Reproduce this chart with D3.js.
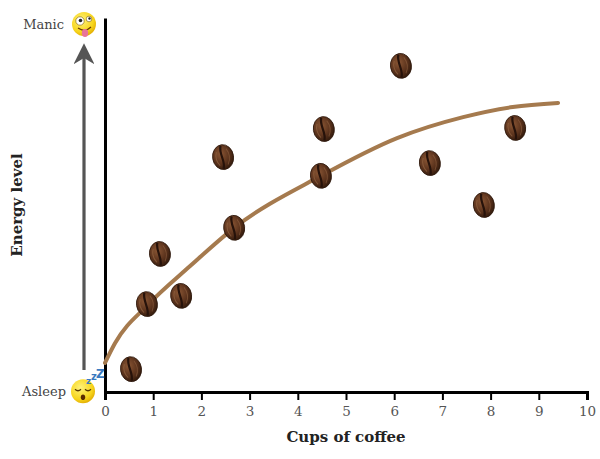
<!DOCTYPE html>
<html><head><meta charset="utf-8">
<script src="https://cdn.jsdelivr.net/npm/d3@7"></script>
<style>body{margin:0;background:#fff}svg{display:block}</style>
</head><body>
<svg id="c" width="600" height="459"></svg>
<script>
const cups = [0.54, 0.87, 1.14, 1.58, 2.45, 2.68, 4.54, 4.48, 6.14, 6.74, 7.86, 8.51];
const energy = [0.61, 2.35, 3.69, 2.57, 6.28, 4.39, 7.03, 5.78, 8.72, 6.12, 5.00, 7.06];
const trendX = [0, 0.21, 0.89, 1.76, 2.68, 4.48, 6.06, 7.43, 8.46, 9.40];
const trendY = [0.78, 1.31, 2.33, 3.36, 4.39, 5.78, 6.79, 7.35, 7.62, 7.73];
const xTicks = [0,1,2,3,4,5,6,7,8,9,10];
const xLabel = "Cups of coffee";
const yLabel = "Energy level";
const topLabel = "Manic", bottomLabel = "Asleep";

const svg = d3.select("#c");
const x = d3.scaleLinear().domain([0,10]).range([105,587]);
const y = d3.scaleLinear().domain([0,10]).range([392,18]);
const FONT = "'DejaVu Serif', serif";

const defs = svg.append("defs");
const bg = defs.append("radialGradient").attr("id","bean").attr("cx","40%").attr("cy","35%").attr("r","70%");
bg.append("stop").attr("offset","0%").attr("stop-color","#8a5634");
bg.append("stop").attr("offset","60%").attr("stop-color","#5a321c");
bg.append("stop").attr("offset","100%").attr("stop-color","#2e180b");
const yg = defs.append("radialGradient").attr("id","face").attr("cx","40%").attr("cy","35%").attr("r","70%");
yg.append("stop").attr("offset","0%").attr("stop-color","#fff27a");
yg.append("stop").attr("offset","70%").attr("stop-color","#f7d51c");
yg.append("stop").attr("offset","100%").attr("stop-color","#e0a800");

// arrow
defs.append("marker").attr("id","ah").attr("viewBox","0 0 10 10").attr("refX",6).attr("refY",5)
  .attr("markerWidth",8.5).attr("markerHeight",6.5).attr("orient","auto").attr("markerUnits","strokeWidth")
  .append("path").attr("d","M0,0 L10,5 L0,10 L3,5 Z").attr("fill","#555");
svg.append("line").attr("x1",84).attr("x2",84).attr("y1",370).attr("y2",y(9.1))
  .attr("stroke","#555").attr("stroke-width",3.2).attr("marker-end","url(#ah)");

// axes
const xAxis = svg.append("g").attr("transform",`translate(0,${y(0)})`)
  .call(d3.axisBottom(x).tickValues(xTicks).tickSize(8).tickSizeOuter(8).tickPadding(6).tickFormat(d3.format("d")));
xAxis.select(".domain").attr("stroke","#000").attr("stroke-width",3);
xAxis.selectAll(".tick line").attr("stroke","#000").attr("stroke-width",2);
xAxis.selectAll("text").attr("font-family",FONT).attr("font-size",13.5).attr("fill","#555");

const yAxis = svg.append("g").attr("transform",`translate(${x(0)},0)`)
  .call(d3.axisLeft(y).tickValues([]).tickSizeOuter(0));
yAxis.select(".domain").attr("stroke","#000").attr("stroke-width",3);

// trend
const trend = trendX.map((d,i)=>[d,trendY[i]]);
svg.append("path").datum(trend).attr("fill","none").attr("stroke","#a57a4e").attr("stroke-width",4)
  .attr("stroke-linecap","round")
  .attr("d", d3.line().x(d=>x(d[0])).y(d=>y(d[1])).curve(d3.curveMonotoneX));

// beans
const pts = cups.map((d,i)=>[d,energy[i]]);
const g = svg.selectAll("g.bean").data(pts).join("g").attr("class","bean")
  .attr("transform",d=>`translate(${x(d[0])},${y(d[1])}) rotate(-8)`);
g.append("ellipse").attr("rx",10.5).attr("ry",12.5).attr("fill","url(#bean)").attr("stroke","#2a150a").attr("stroke-width",0.8);
g.append("path").attr("d","M-1,-11.5 C-4,-4 2,4 -1,11.5").attr("fill","none").attr("stroke","#26120a").attr("stroke-width",2.2);
g.append("path").attr("d","M-6,-6 C-8,-1 -7,4 -4,8").attr("fill","none").attr("stroke","#9a6a48").attr("stroke-width",1).attr("opacity",0.6);
g.append("path").attr("d","M4,-8 C7,-3 7,3 4,8").attr("fill","none").attr("stroke","#9a6a48").attr("stroke-width",1).attr("opacity",0.5);

// emoji: manic
const mY = y(9.84);
const m = svg.append("g").attr("transform",`translate(84,${mY})`);
m.append("circle").attr("r",12).attr("fill","url(#face)");
m.append("circle").attr("cx",-4).attr("cy",-3).attr("r",4.2).attr("fill","#fff").attr("stroke","#7a5a00").attr("stroke-width",0.6);
m.append("circle").attr("cx",-3.5).attr("cy",-3.5).attr("r",1.8).attr("fill","#222");
m.append("circle").attr("cx",5).attr("cy",-5).attr("r",2.8).attr("fill","#fff").attr("stroke","#7a5a00").attr("stroke-width",0.6);
m.append("circle").attr("cx",5.5).attr("cy",-5.5).attr("r",1.2).attr("fill","#222");
m.append("path").attr("d","M-6,4 Q1,9 7,3").attr("fill","none").attr("stroke","#6b3a00").attr("stroke-width",1.2);
m.append("ellipse").attr("cx",1).attr("cy",9).attr("rx",3.2).attr("ry",4).attr("fill","#e8739a");

// emoji: asleep
const aY = y(0.02);
const a = svg.append("g").attr("transform",`translate(83,${aY})`);
a.append("circle").attr("r",12).attr("fill","url(#face)");
a.append("path").attr("d","M-8,-2 Q-5,1 -2,-2 M2,-2 Q5,1 8,-2").attr("fill","none").attr("stroke","#5a3a00").attr("stroke-width",1.2);
a.append("ellipse").attr("cx",0).attr("cy",6).attr("rx",2.2).attr("ry",2.8).attr("fill","#5a2a00");
const zf = "'DejaVu Sans',sans-serif";
svg.append("text").attr("x",86).attr("y",aY-7).attr("font-family",zf).attr("font-weight","bold")
  .attr("font-size",9).attr("fill","#3a7ac0").text("z");
svg.append("text").attr("x",91).attr("y",aY-11).attr("font-family",zf).attr("font-weight","bold")
  .attr("font-size",10).attr("fill","#3a7ac0").text("z");
svg.append("text").attr("x",96).attr("y",aY-13).attr("font-family",zf).attr("font-weight","bold")
  .attr("font-size",12).attr("fill","#3a7ac0").text("Z");

// labels
svg.append("text").attr("x",64).attr("y",mY).attr("dy","0.35em").attr("text-anchor","end")
  .attr("font-family",FONT).attr("font-size",13).attr("fill","#444").text(topLabel);
svg.append("text").attr("x",66).attr("y",aY).attr("dy","0.35em").attr("text-anchor","end")
  .attr("font-family",FONT).attr("font-size",13).attr("fill","#444").text(bottomLabel);
svg.append("text").attr("x",(x(0)+x(10))/2).attr("y",442).attr("text-anchor","middle")
  .attr("font-family",FONT).attr("font-weight","bold").attr("font-size",15).attr("fill","#222").text(xLabel);
svg.append("text").attr("transform",`translate(22,${205}) rotate(-90)`).attr("text-anchor","middle")
  .attr("font-family",FONT).attr("font-weight","bold").attr("font-size",15).attr("fill","#222").text(yLabel);
</script>
</body></html>
